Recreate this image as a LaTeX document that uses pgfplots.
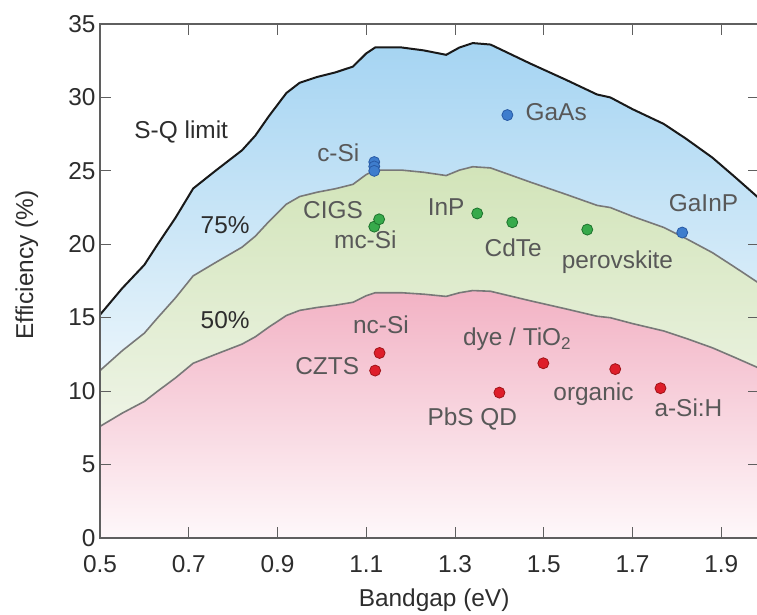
\documentclass[border=0pt]{standalone}
\usepackage{pgfplots}
\pgfplotsset{compat=1.18}
\usepackage{fontspec}
\setmainfont{Liberation Sans}
\definecolor{sqtop}{RGB}{165,212,242}
\definecolor{sqbot}{RGB}{234,245,251}
\definecolor{grtop}{RGB}{210,228,185}
\definecolor{grbot}{RGB}{238,244,230}
\definecolor{pktop}{RGB}{242,178,196}
\definecolor{pkbot}{RGB}{254,248,250}
\definecolor{axgray}{RGB}{95,95,95}
\definecolor{lblgray}{RGB}{88,88,88}
\definecolor{dark}{RGB}{45,45,45}
\definecolor{curvegray}{RGB}{120,120,120}
\definecolor{bluefill}{RGB}{62,125,205}
\definecolor{bluedraw}{RGB}{40,90,165}
\definecolor{greenfill}{RGB}{55,170,75}
\definecolor{greendraw}{RGB}{30,115,45}
\definecolor{redfill}{RGB}{222,30,42}
\definecolor{reddraw}{RGB}{160,20,25}
\begin{document}
\begin{tikzpicture}
\begin{axis}[
  at={(0,0)}, anchor=south west,
  scale only axis, width=659bp, height=514bp,
  xmin=0.5, xmax=1.985, ymin=0, ymax=35,
  axis on top,
  xtick={0.5,0.7,0.9,1.1,1.3,1.5,1.7,1.9},
  xticklabels={0.5,0.7,0.9,1.1,1.3,1.5,1.7,1.9},
  ytick={0,5,10,15,20,25,30,35},
  yticklabels={0,5,10,15,20,25,30,35},
  tick align=inside,
  major tick length=11bp,
  tick style={color=axgray, line width=1bp},
  axis line style={color=axgray, line width=1.2bp},
  tick label style={font=\fontsize{24.5}{28}\selectfont, text=dark},
  xticklabel style={yshift=-14bp},
  yticklabel style={xshift=-1bp},
  xlabel={Bandgap (eV)},
  ylabel={Efficiency (\%)},
  every axis x label/.style={at={(axis description cs:0.507,-0.1206)}, anchor=center, font=\fontsize{24.5}{28}\selectfont, text=dark},
  every axis y label/.style={at={(axis description cs:-0.111,0.531)}, anchor=center, rotate=90, font=\fontsize{24.5}{28}\selectfont, text=dark},
]
% S-Q limit area
\addplot[draw=none, mark=none, top color=sqtop, bottom color=sqbot] coordinates {
(0.50,15.2) (0.55,17.0) (0.60,18.6) (0.63,20.0) (0.67,21.8) (0.71,23.8) (0.76,25.0)
(0.82,26.4) (0.85,27.4) (0.88,28.7) (0.92,30.3) (0.95,31.0) (0.99,31.4) (1.03,31.7)
(1.07,32.1) (1.10,33.0) (1.12,33.4) (1.18,33.4) (1.23,33.2) (1.28,32.9) (1.31,33.4)
(1.34,33.7) (1.38,33.6) (1.47,32.3) (1.55,31.2) (1.62,30.2) (1.65,30.0) (1.70,29.2)
(1.77,28.2) (1.82,27.2) (1.88,25.9) (1.93,24.6) (1.99,23.0) (1.99,11) (0.50,11)} -- cycle;
% 75% area
\addplot[draw=none, mark=none, top color=grtop, bottom color=grbot] coordinates {
(0.50,11.4) (0.55,12.75) (0.60,13.95) (0.63,15.0) (0.67,16.35) (0.71,17.85) (0.76,18.75)
(0.82,19.8) (0.85,20.55) (0.88,21.53) (0.92,22.73) (0.95,23.25) (0.99,23.55) (1.03,23.78)
(1.07,24.08) (1.10,24.75) (1.12,25.05) (1.18,25.05) (1.23,24.9) (1.28,24.68) (1.31,25.05)
(1.34,25.28) (1.38,25.2) (1.47,24.23) (1.55,23.4) (1.62,22.65) (1.65,22.5) (1.70,21.9)
(1.77,21.15) (1.82,20.4) (1.88,19.43) (1.93,18.45) (1.99,17.25) (1.99,7.5) (0.50,7.5)} -- cycle;
% 50% area
\addplot[draw=none, mark=none, top color=pktop, bottom color=pkbot] coordinates {
(0.50,7.6) (0.55,8.5) (0.60,9.3) (0.63,10.0) (0.67,10.9) (0.71,11.9) (0.76,12.5)
(0.82,13.2) (0.85,13.7) (0.88,14.35) (0.92,15.15) (0.95,15.5) (0.99,15.7) (1.03,15.85)
(1.07,16.05) (1.10,16.5) (1.12,16.7) (1.18,16.7) (1.23,16.6) (1.28,16.45) (1.31,16.7)
(1.34,16.85) (1.38,16.8) (1.47,16.15) (1.55,15.6) (1.62,15.1) (1.65,15.0) (1.70,14.6)
(1.77,14.1) (1.82,13.6) (1.88,12.95) (1.93,12.3) (1.99,11.5) (1.99,0) (0.50,0)} -- cycle;
% curves
\addplot[color=curvegray, line width=1.6bp, mark=none] coordinates {
(0.50,7.6) (0.55,8.5) (0.60,9.3) (0.63,10.0) (0.67,10.9) (0.71,11.9) (0.76,12.5)
(0.82,13.2) (0.85,13.7) (0.88,14.35) (0.92,15.15) (0.95,15.5) (0.99,15.7) (1.03,15.85)
(1.07,16.05) (1.10,16.5) (1.12,16.7) (1.18,16.7) (1.23,16.6) (1.28,16.45) (1.31,16.7)
(1.34,16.85) (1.38,16.8) (1.47,16.15) (1.55,15.6) (1.62,15.1) (1.65,15.0) (1.70,14.6)
(1.77,14.1) (1.82,13.6) (1.88,12.95) (1.93,12.3) (1.99,11.5)};
\addplot[color=curvegray, line width=1.6bp, mark=none] coordinates {
(0.50,11.4) (0.55,12.75) (0.60,13.95) (0.63,15.0) (0.67,16.35) (0.71,17.85) (0.76,18.75)
(0.82,19.8) (0.85,20.55) (0.88,21.53) (0.92,22.73) (0.95,23.25) (0.99,23.55) (1.03,23.78)
(1.07,24.08) (1.10,24.75) (1.12,25.05) (1.18,25.05) (1.23,24.9) (1.28,24.68) (1.31,25.05)
(1.34,25.28) (1.38,25.2) (1.47,24.23) (1.55,23.4) (1.62,22.65) (1.65,22.5) (1.70,21.9)
(1.77,21.15) (1.82,20.4) (1.88,19.43) (1.93,18.45) (1.99,17.25)};
\addplot[color=black!90, line width=2bp, mark=none] coordinates {
(0.50,15.2) (0.55,17.0) (0.60,18.6) (0.63,20.0) (0.67,21.8) (0.71,23.8) (0.76,25.0)
(0.82,26.4) (0.85,27.4) (0.88,28.7) (0.92,30.3) (0.95,31.0) (0.99,31.4) (1.03,31.7)
(1.07,32.1) (1.10,33.0) (1.12,33.4) (1.18,33.4) (1.23,33.2) (1.28,32.9) (1.31,33.4)
(1.34,33.7) (1.38,33.6) (1.47,32.3) (1.55,31.2) (1.62,30.2) (1.65,30.0) (1.70,29.2)
(1.77,28.2) (1.82,27.2) (1.88,25.9) (1.93,24.6) (1.99,23.0)};
% data points
\addplot[only marks, mark=*, mark size=5.5bp, mark options={fill=bluefill, draw=bluedraw, line width=0.8bp}] coordinates {
(1.118,25.6) (1.118,25.3) (1.118,25.0) (1.418,28.8) (1.812,20.8)};
\addplot[only marks, mark=*, mark size=5.5bp, mark options={fill=greenfill, draw=greendraw, line width=0.8bp}] coordinates {
(1.118,21.2) (1.129,21.7) (1.35,22.1) (1.429,21.5) (1.598,21.0)};
\addplot[only marks, mark=*, mark size=5.5bp, mark options={fill=redfill, draw=reddraw, line width=0.8bp}] coordinates {
(1.13,12.6) (1.12,11.4) (1.40,9.9) (1.499,11.9) (1.661,11.5) (1.763,10.2)};
% labels
\tikzset{lbl/.style={font=\fontsize{24.5}{28}\selectfont, text=lblgray, inner sep=0pt, text height=0.72em, text depth=0pt, anchor=center},
         dlbl/.style={font=\fontsize{24.5}{28}\selectfont, text=dark, inner sep=0pt, text height=0.72em, text depth=0pt, anchor=center}}
\node[dlbl] at (axis cs:0.683,27.43) {S-Q limit};
\node[dlbl] at (axis cs:0.782,20.97) {75\%};
\node[dlbl] at (axis cs:0.782,14.5) {50\%};
\node[lbl] at (axis cs:1.037,25.9) {c-Si};
\node[lbl] at (axis cs:1.528,28.66) {GaAs};
\node[lbl] at (axis cs:1.025,22.0) {CIGS};
\node[lbl] at (axis cs:1.098,19.95) {mc-Si};
\node[lbl] at (axis cs:1.28,22.2) {InP};
\node[lbl] at (axis cs:1.431,19.4) {CdTe};
\node[lbl] at (axis cs:1.666,18.6) {perovskite};
\node[lbl] at (axis cs:1.86,22.5) {GaInP};
\node[lbl] at (axis cs:1.133,14.16) {nc-Si};
\node[lbl] at (axis cs:1.012,11.37) {CZTS};
\node[lbl] at (axis cs:1.44,13.34) {dye / TiO\textsubscript{2}};
\node[lbl] at (axis cs:1.339,7.9) {PbS QD};
\node[lbl] at (axis cs:1.612,9.6) {organic};
\node[lbl] at (axis cs:1.826,8.5) {a-Si:H};
\end{axis}
\pgfresetboundingbox
\path[use as bounding box] (-100bp,-77bp) rectangle (657bp,538bp);
\end{tikzpicture}
\end{document}
